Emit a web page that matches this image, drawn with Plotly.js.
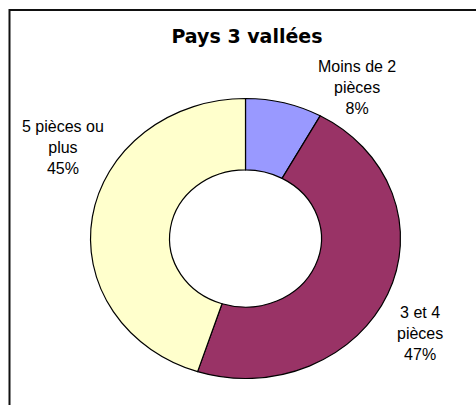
<!DOCTYPE html>
<html>
<head>
<meta charset="utf-8">
<script src="https://cdn.plot.ly/plotly-3.0.1.min.js"></script>
<style>
  html, body { margin: 0; padding: 0; background: #ffffff; }
  #chart { width: 476px; height: 405px; }
</style>
</head>
<body>
<div id="chart"></div>
<script>
var chartTitle = "Pays 3 vallées";
var categories = ["Moins de 2 pièces", "3 et 4 pièces", "5 pièces ou plus"];
var labelTexts = ["Moins de 2<br>pièces", "3 et 4<br>pièces", "5 pièces ou<br>plus"];
var values = [8, 47, 45];
var colors = ["#9999FF", "#993366", "#FFFFCC"];

var W = 476, H = 405;
var cx = 245.5, cy = 238.5, rY = 140, rX = 155;

// label anchor positions (pixels), style only
var labelPos = [[357, 88], [420, 333], [62.5, 148]];

var total = values.reduce(function (a, b) { return a + b; }, 0);

var annotations = categories.map(function (c, i) {
  var pct = Math.round(values[i] / total * 100);
  return {
    text: labelTexts[i] + "<br>" + pct + "%",
    xref: "paper", yref: "paper",
    x: labelPos[i][0] / W, y: 1 - labelPos[i][1] / H,
    xanchor: "center", yanchor: "middle",
    showarrow: false, align: "center",
    font: { family: "Liberation Sans, Arial, sans-serif", size: 16, color: "#000000" }
  };
});

var trace = {
  type: "pie",
  labels: categories,
  values: values,
  sort: false,
  direction: "clockwise",
  rotation: 0,
  hole: 0.49,
  textinfo: "none",
  hoverinfo: "label+percent",
  marker: { colors: colors, line: { color: "#000000", width: 1.2 } },
  domain: {
    x: [(cx - rY) / W, (cx + rY) / W],
    y: [1 - (cy + rY) / H, 1 - (cy - rY) / H]
  },
  showlegend: false
};

var layout = {
  width: W, height: H,
  margin: { l: 0, r: 0, t: 0, b: 0 },
  paper_bgcolor: "#ffffff",
  showlegend: false,
  title: {
    text: "<b>" + chartTitle + "</b>",
    font: { family: "DejaVu Sans, sans-serif", size: 19, color: "#000000" },
    x: 247 / W, xanchor: "center", xref: "paper",
    y: 1 - 36 / H, yanchor: "middle", yref: "container"
  },
  annotations: annotations,
  shapes: [{
    type: "rect", xref: "paper", yref: "paper",
    x0: 9.5 / W, x1: 1.05, y0: -0.05, y1: 1 - 10 / H,
    line: { color: "#111111", width: 2 }, fillcolor: "rgba(0,0,0,0)", layer: "above"
  }]
};

Plotly.newPlot("chart", [trace], layout, { displayModeBar: false, staticPlot: true }).then(function () {
  // Reference doughnut is slightly wider than tall: stretch the pie layer horizontally.
  var pl = document.querySelector(".pielayer");
  if (pl) {
    var s = rX / rY;
    pl.setAttribute("transform", "translate(" + cx + "," + cy + ") scale(" + s + ",1) translate(" + (-cx) + "," + (-cy) + ")");
    var paths = pl.querySelectorAll("path");
    for (var i = 0; i < paths.length; i++) {
      paths[i].style.vectorEffect = "non-scaling-stroke";
    }
  }
});
</script>
</body>
</html>
